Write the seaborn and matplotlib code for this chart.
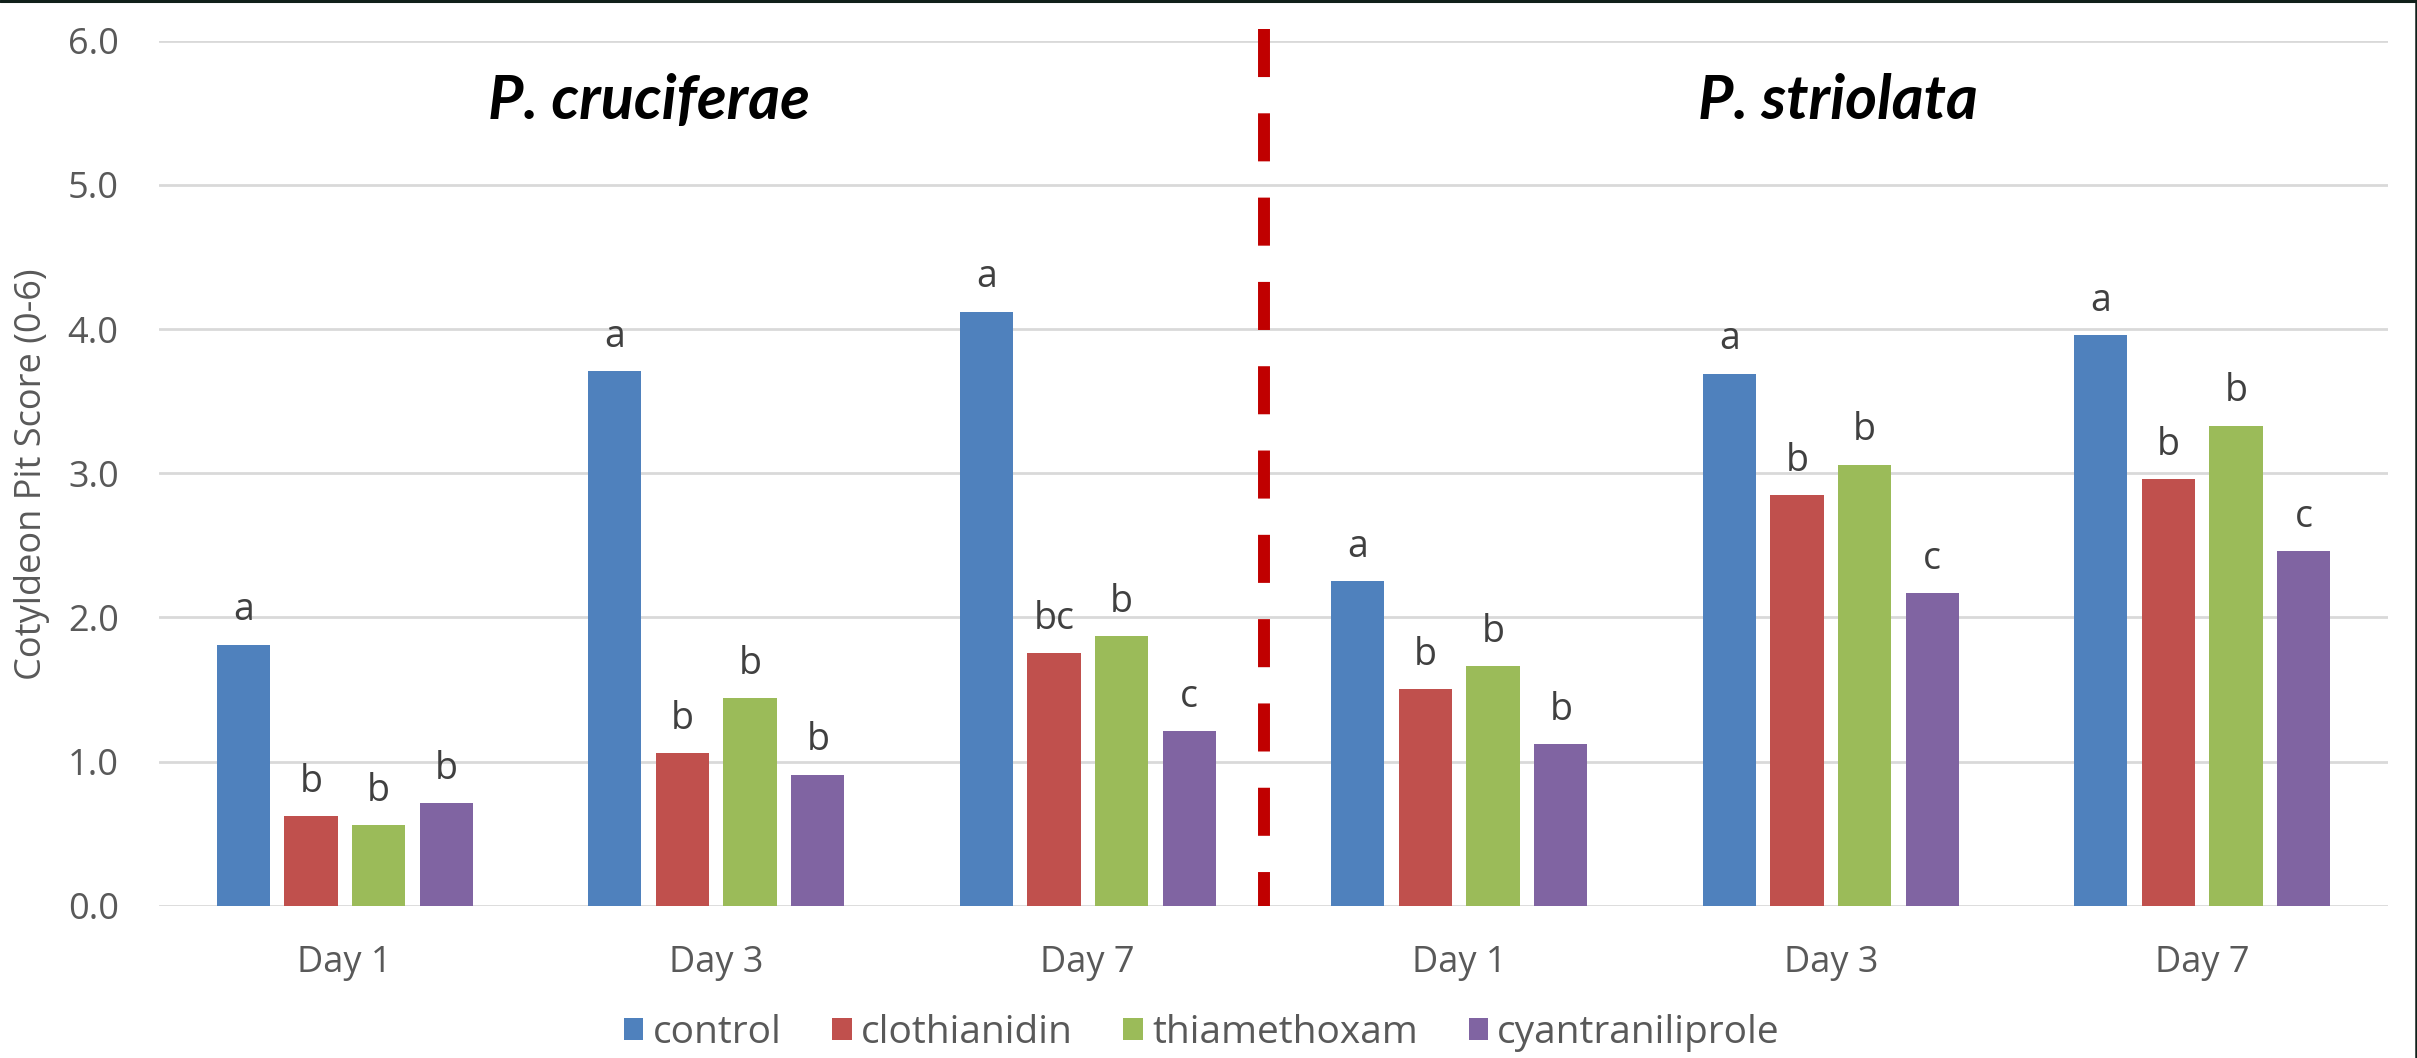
import matplotlib
matplotlib.use("Agg")
import matplotlib.pyplot as plt
import pandas as pd
import seaborn as sns
from matplotlib.lines import Line2D
from matplotlib.patches import Patch
from matplotlib.ticker import FormatStrFormatter

# Mean cotyledon pit scores by flea beetle species, day and seed treatment
species = ["P. cruciferae", "P. striolata"]
days = ["Day 1", "Day 3", "Day 7"]
treatments = ["control", "clothianidin", "thiamethoxam", "cyantraniliprole"]
colors = ["#4F81BD", "#C0504D", "#9BBB59", "#8064A2"]

control = [1.81, 3.71, 4.12, 2.25, 3.69, 3.96]
clothianidin = [0.62, 1.06, 1.75, 1.50, 2.85, 2.96]
thiamethoxam = [0.56, 1.44, 1.87, 1.66, 3.06, 3.33]
cyantraniliprole = [0.71, 0.91, 1.21, 1.12, 2.17, 2.46]

# Mean separation letters
control_letters = ["a", "a", "a", "a", "a", "a"]
clothianidin_letters = ["b", "b", "bc", "b", "b", "b"]
thiamethoxam_letters = ["b", "b", "b", "b", "b", "b"]
cyantraniliprole_letters = ["b", "b", "c", "b", "c", "c"]

sns.set_style("white")
plt.rcParams["font.family"] = ["Open Sans", "DejaVu Sans"]
plt.rcParams["lines.scale_dashes"] = False

groups = [f"{s} {d}" for s in species for d in days]
values = [control, clothianidin, thiamethoxam, cyantraniliprole]
letters = [control_letters, clothianidin_letters, thiamethoxam_letters,
           cyantraniliprole_letters]

rows = []
for t, vals, labs in zip(treatments, values, letters):
    for g, v, l in zip(groups, vals, labs):
        rows.append({"group": g, "treatment": t, "score": v, "letter": l})
df = pd.DataFrame(rows)

W, H = 2417, 1058
fig = plt.figure(figsize=(W / 100, H / 100), dpi=100)
ax = fig.add_axes([159 / W, 1 - 905.7 / H, (2388 - 159) / W, (905.7 - 40.7) / H])

sns.barplot(data=df, x="group", y="score", hue="treatment", order=groups,
            hue_order=treatments, palette=colors, saturation=1,
            width=0.729, gap=0.212, errorbar=None, linewidth=0,
            legend=False, ax=ax)

for container, t in zip(ax.containers, treatments):
    labs = df[df.treatment == t].set_index("group").loc[groups, "letter"]
    ax.bar_label(container, labels=list(labs), padding=11, fontsize=27,
                 color="#404040")

ax.set_ylim(0, 6)
ax.set_xlim(-0.5, len(groups) - 0.5)
ax.set_yticks([0, 1, 2, 3, 4, 5, 6])
ax.yaxis.set_major_formatter(FormatStrFormatter("%.1f"))
ax.set_xticks(range(len(groups)))
ax.set_xticklabels(days * len(species))
ax.tick_params(axis="both", length=0, labelsize=26, labelcolor="#595959")
ax.tick_params(axis="y", pad=29)
ax.tick_params(axis="x", pad=28)
ax.set_xlabel("")
ax.set_ylabel("")
for sp in ax.spines.values():
    sp.set_visible(False)
ax.yaxis.grid(True, color="#D9D9D9", linewidth=2)
ax.set_axisbelow(True)

fig.text(32 / W, 1 - 474 / H, "Cotyldeon Pit Score (0-6)", rotation=90,
         ha="center", va="center", fontsize=26, color="#595959")

# Separator between the two species
sep_x = len(days) - 0.525
ax.plot([sep_x, sep_x], [6.079, 0], color="#C00000", linewidth=8.6,
        dashes=(34.6, 26.1), clip_on=False, zorder=3)

title_kw = dict(ha="center", va="baseline", fontsize=44, fontweight="bold",
                fontstyle="italic", family=["Lato", "DejaVu Sans"], color="black")
ax.text(0.82, 5.456, species[0], **title_kw)
ax.text(4.02, 5.456, species[1], **title_kw)

handles = [Patch(facecolor=c, edgecolor="none") for c in colors]
fig.legend(handles, treatments, loc="center", ncol=4, frameon=False,
           bbox_to_anchor=(1202 / W, 1 - 1033 / H), fontsize=28,
           handlelength=0.5, handleheight=0.5, handletextpad=0.24,
           columnspacing=1.3, labelcolor="#595959")

# Chart frame edges
fig.add_artist(Line2D([0, 1], [1 - 1.2 / H] * 2, transform=fig.transFigure,
                      color="#10201a", linewidth=2.2))
fig.add_artist(Line2D([1 - 1.2 / W] * 2, [0, 1], transform=fig.transFigure,
                      color="#10201a", linewidth=1.8))

fig.savefig("out.png", dpi=100)
